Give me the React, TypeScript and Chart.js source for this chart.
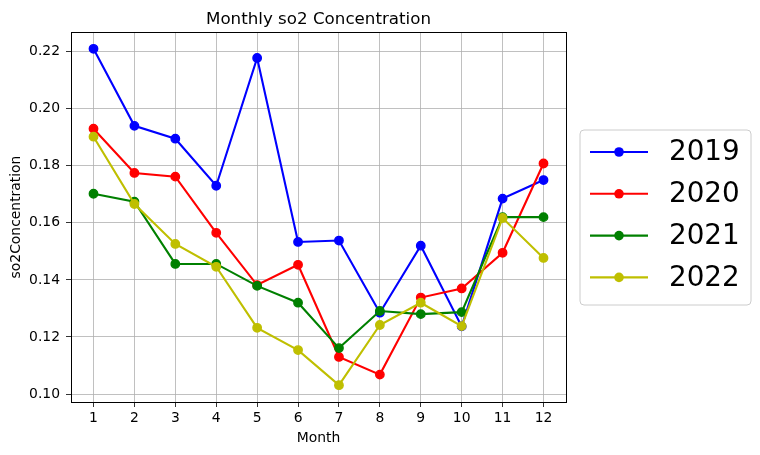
import React, { useEffect, useRef } from "react";
import { Chart, registerables } from "chart.js";

Chart.register(...registerables);

const months = [1, 2, 3, 4, 5, 6, 7, 8, 9, 10, 11, 12];
const yTicks = [0.1, 0.12, 0.14, 0.16, 0.18, 0.2, 0.22];
const seriesNames = ["2019", "2020", "2021", "2022"];
const seriesColors = ["#0000ff", "#ff0000", "#008000", "#bfbf00"];
const values2019 = [0.221, 0.194, 0.1895, 0.173, 0.2178, 0.1533, 0.1538, 0.1285, 0.152, 0.1237, 0.1685, 0.175];
const values2020 = [0.193, 0.1775, 0.1762, 0.1565, 0.1382, 0.1453, 0.113, 0.1068, 0.1338, 0.137, 0.1495, 0.1808];
const values2021 = [0.1702, 0.1674, 0.1456, 0.1456, 0.1379, 0.132, 0.1161, 0.1291, 0.128, 0.1287, 0.162, 0.162];
const values2022 = [0.1902, 0.1666, 0.1526, 0.1446, 0.1232, 0.1154, 0.1031, 0.1242, 0.132, 0.1238, 0.1617, 0.1477];
const allValues = [values2019, values2020, values2021, values2022];

const titleText = "Monthly so2 Concentration";
const xTitle = "Month";
const yTitle = "so2Concentration";
const FONT = "'DejaVu Sans', sans-serif";

const framePlugin = {
  id: "frameAndLegend",
  afterDraw(chart: any) {
    const ctx = chart.ctx;
    const a = chart.chartArea;
    ctx.save();
    ctx.strokeStyle = "#000";
    ctx.lineWidth = 1;
    ctx.strokeRect(Math.round(a.left) + 0.5, Math.round(a.top) + 0.5, Math.round(a.right - a.left), Math.round(a.bottom - a.top));
    ctx.fillStyle = "#000";
    ctx.font = `16.7px ${FONT}`;
    ctx.textAlign = "center";
    ctx.textBaseline = "alphabetic";
    ctx.fillText(titleText, (a.left + a.right) / 2, 24);
    const bx = 580, by = 130, bw = 171, bh = 175, r = 4;
    ctx.beginPath();
    ctx.moveTo(bx + r, by);
    ctx.lineTo(bx + bw - r, by);
    ctx.quadraticCurveTo(bx + bw, by, bx + bw, by + r);
    ctx.lineTo(bx + bw, by + bh - r);
    ctx.quadraticCurveTo(bx + bw, by + bh, bx + bw - r, by + bh);
    ctx.lineTo(bx + r, by + bh);
    ctx.quadraticCurveTo(bx, by + bh, bx, by + bh - r);
    ctx.lineTo(bx, by + r);
    ctx.quadraticCurveTo(bx, by, bx + r, by);
    ctx.closePath();
    ctx.fillStyle = "rgba(255,255,255,0.8)";
    ctx.fill();
    ctx.strokeStyle = "#cccccc";
    ctx.lineWidth = 1;
    ctx.stroke();
    chart.data.datasets.forEach((ds: any, i: number) => {
      const y = 152 + i * 41.8;
      ctx.strokeStyle = ds.borderColor;
      ctx.lineWidth = 2.1;
      ctx.beginPath();
      ctx.moveTo(590, y);
      ctx.lineTo(648, y);
      ctx.stroke();
      ctx.fillStyle = ds.borderColor;
      ctx.beginPath();
      ctx.arc(619, y, 4.8, 0, Math.PI * 2);
      ctx.fill();
      ctx.fillStyle = "#000";
      ctx.font = `27.8px ${FONT}`;
      ctx.textAlign = "left";
      ctx.textBaseline = "middle";
      ctx.fillText(ds.label, 669, y + 1);
    });
    ctx.restore();
  },
};

export default function App() {
  const ref = useRef<HTMLCanvasElement>(null);
  useEffect(() => {
    if (!ref.current) return;
    const datasets = seriesNames.map((name, i) => ({
      label: name,
      data: months.map((m, j) => ({ x: m, y: allValues[i][j] })),
      borderColor: seriesColors[i],
      backgroundColor: seriesColors[i],
      borderWidth: 2.1,
      pointRadius: 4.2,
      pointHoverRadius: 4.2,
      pointBorderWidth: 1.4,
      pointBorderColor: seriesColors[i],
      pointBackgroundColor: seriesColors[i],
      tension: 0,
      order: seriesNames.length - 1 - i,
    }));
    const chart = new Chart(ref.current, {
      type: "line",
      data: { datasets },
      options: {
        animation: false,
        responsive: false,
        devicePixelRatio: 1,
        layout: { padding: { left: 0, right: 194, top: 32, bottom: 0 } },
        plugins: { legend: { display: false }, title: { display: false }, tooltip: { enabled: false } },
        scales: {
          x: {
            type: "linear",
            min: 0.45,
            max: 12.55,
            afterBuildTicks: (s: any) => { s.ticks = months.map((m) => ({ value: m })); },
            afterFit: (s: any) => { s.height = 53; },
            grid: { color: "#b0b0b0", lineWidth: 0.8, tickColor: "#000", tickLength: 5, drawOnChartArea: true },
            border: { display: false },
            ticks: { color: "#000", font: { family: FONT, size: 13.9 }, padding: 3, maxRotation: 0, autoSkip: false, callback: (v: any) => String(v) },
            title: { display: true, text: xTitle, color: "#000", font: { family: FONT, size: 13.9 }, padding: { top: 0, bottom: 8 } },
          },
          y: {
            type: "linear",
            min: 0.0972,
            max: 0.2269,
            afterBuildTicks: (s: any) => { s.ticks = yTicks.map((v) => ({ value: v })); },
            afterFit: (s: any) => { s.width = 71; },
            grid: { color: "#b0b0b0", lineWidth: 0.8, tickColor: "#000", tickLength: 5, drawOnChartArea: true },
            border: { display: false },
            ticks: { color: "#000", font: { family: FONT, size: 13.9 }, padding: 6, autoSkip: false, callback: (v: any) => Number(v).toFixed(2) },
            title: { display: true, text: yTitle, color: "#000", font: { family: FONT, size: 13.9 }, padding: { top: 8, bottom: 0 } },
          },
        },
      },
      plugins: [framePlugin],
    });
    return () => chart.destroy();
  }, []);
  return (
    <div style={{ position: "fixed", left: 0, top: 0, width: 760, height: 455, background: "#fff" }}>
      <canvas ref={ref} width={760} height={455} style={{ width: 760, height: 455 }} />
    </div>
  );
}
